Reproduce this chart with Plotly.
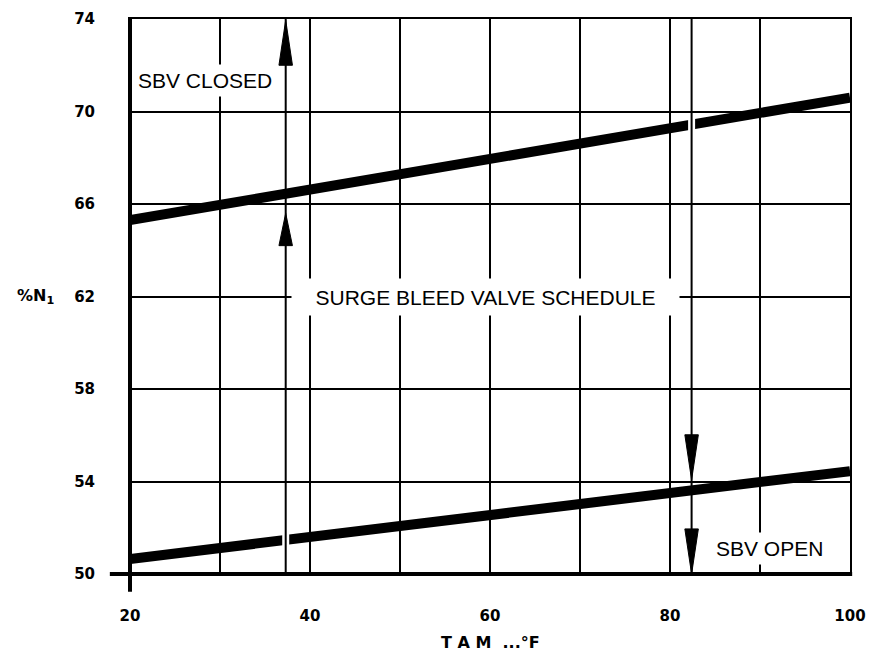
import numpy as np
import plotly.graph_objects as go

# ---- data ----
temp_f = [20, 100]                 # TAM (°F)
sbv_closed_n1 = [65.3, 70.6]       # upper schedule line (%N1)
sbv_open_n1 = [50.65, 54.45]       # lower schedule line (%N1)

x_tickvals = [20, 40, 60, 80, 100]
y_tickvals = [50, 54, 58, 62, 66, 70, 74]

closed_arrow_x = 37.3              # TAM where the "closed" arrows sit
closed_arrow_tips = [73.95, 65.6]  # both point up
open_arrow_x = 82.4                # TAM where the "open" arrows sit
open_arrow_tips = [54.07, 50.0]    # both point down

# ---- style ----
HEAD_HALF_W = 0.75   # x units
HEAD_LEN = [1.95, 1.4]
INK = "black"

fig = go.Figure()

fig.add_trace(go.Scatter(x=temp_f, y=sbv_closed_n1, mode="lines",
                         line=dict(color=INK, width=10), hoverinfo="skip"))
fig.add_trace(go.Scatter(x=temp_f, y=sbv_open_n1, mode="lines",
                         line=dict(color=INK, width=10), hoverinfo="skip"))

shapes = []
# white breaks where arrow lines cross the thick schedule lines
gap_open = np.interp(closed_arrow_x, temp_f, sbv_open_n1)
gap_closed = np.interp(open_arrow_x, temp_f, sbv_closed_n1)
for gx, gy in [(closed_arrow_x, gap_open), (open_arrow_x, gap_closed)]:
    shapes.append(dict(type="line", xref="x", yref="y", x0=gx, x1=gx,
                       y0=gy - 0.45, y1=gy + 0.45,
                       line=dict(color="white", width=7), layer="above"))

# arrow shafts
for ax in [closed_arrow_x, open_arrow_x]:
    shapes.append(dict(type="line", xref="x", yref="y", x0=ax, x1=ax,
                       y0=50, y1=74, line=dict(color=INK, width=2), layer="above"))

# arrow heads
def head(xc, tip, length, direction):
    base = tip - direction * length
    return dict(type="path", xref="x", yref="y",
                path=f"M {xc - HEAD_HALF_W} {base} L {xc} {tip} L {xc + HEAD_HALF_W} {base} Z",
                fillcolor=INK, line=dict(color=INK, width=1), layer="above")

for tip, ln in zip(closed_arrow_tips, HEAD_LEN):
    shapes.append(head(closed_arrow_x, tip, ln, +1))
for tip in open_arrow_tips:
    shapes.append(head(open_arrow_x, tip, HEAD_LEN[0], -1))

# heavy left and bottom axes
shapes.append(dict(type="line", xref="x domain", yref="y domain", x0=0, x1=0,
                   y0=-0.032, y1=1, line=dict(color=INK, width=4), layer="above"))
shapes.append(dict(type="line", xref="x domain", yref="y domain", x0=-0.028, x1=1.003,
                   y0=0, y1=0, line=dict(color=INK, width=4), layer="above"))

fig.update_layout(shapes=shapes)

label_font = dict(family="Liberation Sans, Arial, sans-serif", size=21, color=INK)
tick_font = dict(family="DejaVu Sans", size=15, color=INK, weight="bold")
title_font = dict(family="DejaVu Sans", size=16, color=INK, weight="bold")

annotations = [
    dict(x=20.3, y=71.36, xref="x", yref="y", text="SBV CLOSED", showarrow=False,
         xanchor="left", yanchor="middle", font=label_font, bgcolor="white", borderpad=4),
    dict(x=59.5, y=62, xref="x", yref="y", text="SURGE BLEED VALVE SCHEDULE",
         showarrow=False, xanchor="center", yanchor="middle", font=label_font,
         bgcolor="white", width=385, height=34),
    dict(x=84.6, y=51.12, xref="x", yref="y", text="SBV OPEN", showarrow=False,
         xanchor="left", yanchor="middle", font=label_font, bgcolor="white", borderpad=4),
    dict(x=-0.1306, y=62, xref="paper", yref="y", text="%N<sub>1</sub>", showarrow=False,
         xanchor="center", yanchor="middle", font=title_font),
    dict(x=0.5, y=-0.124, xref="paper", yref="paper", text="T A M  ...°F", showarrow=False,
         xanchor="center", yanchor="middle", font=title_font),
]
fig.update_layout(annotations=annotations)

fig.update_xaxes(range=[20, 100], tickvals=x_tickvals, ticktext=[str(v) for v in x_tickvals],
                 showgrid=True, gridcolor=INK, gridwidth=1.5,
                 minor=dict(dtick=10, showgrid=True, gridcolor=INK, gridwidth=1.5),
                 showline=True, linecolor=INK, linewidth=2, mirror=True, automargin=False,
                 ticks="", ticklabelstandoff=27, tickfont=tick_font, zeroline=False)
fig.update_yaxes(range=[50, 74], tickvals=y_tickvals, ticktext=[str(v) for v in y_tickvals],
                 showgrid=True, gridcolor=INK, gridwidth=1.5,
                 showline=True, linecolor=INK, linewidth=2, mirror=True, automargin=False,
                 ticks="", ticklabelstandoff=30, tickfont=tick_font, zeroline=False)

fig.update_layout(width=892, height=655, showlegend=False,
                  margin=dict(l=122, r=50, t=11, b=89),
                  paper_bgcolor="white", plot_bgcolor="white")

fig.write_html("out.html")
